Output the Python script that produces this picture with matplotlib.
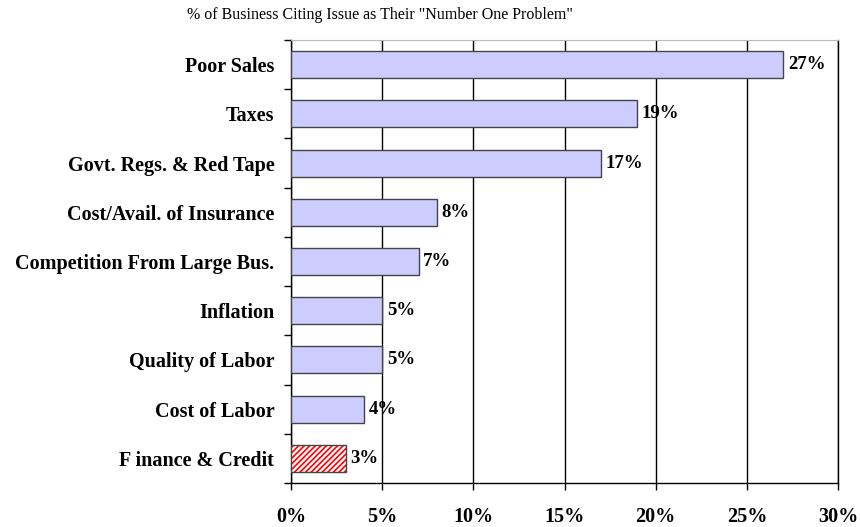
import matplotlib.pyplot as plt
import numpy as np

plt.rcParams['font.family'] = ['Liberation Serif', 'DejaVu Serif']
plt.rcParams['hatch.linewidth'] = 1.2

categories = ["Poor Sales", "Taxes", "Govt. Regs. & Red Tape", "Cost/Avail. of Insurance",
              "Competition From Large Bus.", "Inflation", "Quality of Labor",
              "Cost of Labor", "F inance & Credit"]
values = [27, 19, 17, 8, 7, 5, 5, 4, 3]
xticks = [0, 5, 10, 15, 20, 25, 30]

fig = plt.figure(figsize=(8.6, 5.27), dpi=100)
ax = fig.add_axes([0.3384, 0.0835, 0.636, 0.8406])

y = np.arange(len(categories))
for i, (cat, v) in enumerate(zip(categories, values)):
    if i == len(categories) - 1:
        # last bar is hatched red on white
        ax.barh(i, v, height=0.55, color='white', edgecolor='red', hatch='//////',
                linewidth=0, zorder=3)
        ax.barh(i, v, height=0.55, fill=False, edgecolor='#444444', linewidth=1, zorder=4)
    else:
        ax.barh(i, v, height=0.55, color='#ccccff', edgecolor='#444444', linewidth=1, zorder=3)
    ax.text(v + 0.25, i, f"{v}%", va='center', ha='left', fontsize=13.5, fontweight='bold')

ax.set_xlim(0, 30)
ax.set_ylim(len(categories) - 0.5, -0.5)
ax.set_xticks(xticks)
ax.set_xticklabels([f"{t}%" for t in xticks], fontsize=14.5, fontweight='bold')
ax.tick_params(axis='x', length=5, width=1, pad=12)
ax.set_yticks(y)
ax.set_yticklabels(categories, fontsize=14.5, fontweight='bold')
ax.tick_params(axis='y', which='major', length=0, pad=12)
ax.set_yticks(np.arange(-0.5, len(categories), 1), minor=True)
ax.tick_params(axis='y', which='minor', length=5, width=1)

ax.grid(axis='x', color='black', linewidth=1, zorder=0)
ax.set_axisbelow(True)
ax.spines['top'].set_color('#bbbbbb')
for s in ['left', 'bottom', 'right']:
    ax.spines[s].set_color('black')
    ax.spines[s].set_linewidth(1)

fig.text(380 / 860, 0.971, '% of Business Citing Issue as Their "Number One Problem"',
         ha='center', va='center', fontsize=11.5)

fig.savefig('out.png', dpi=100)
